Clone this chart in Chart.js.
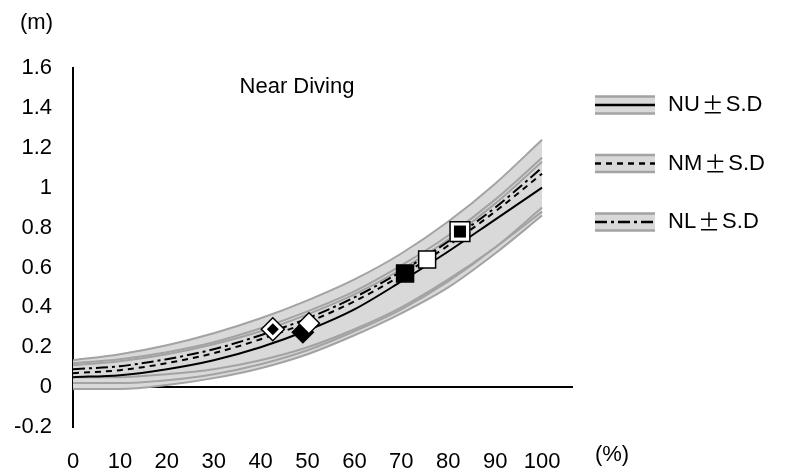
<!DOCTYPE html>
<html>
<head>
<meta charset="utf-8">
<script src="https://cdn.jsdelivr.net/npm/chart.js@4.4.1/dist/chart.umd.min.js"></script>
<style>
  html, body { margin: 0; padding: 0; background: #fff; }
  #wrap { width: 790px; height: 475px; }
</style>
</head>
<body>
<div id="wrap"><canvas id="chart" width="790" height="475"></canvas></div>
<script>
/* ── DATA ── */
var pct = [0, 10, 20, 30, 40, 50, 60, 70, 80, 90, 100];

var nuMean  = [0.05, 0.06, 0.09, 0.135, 0.20, 0.285, 0.39, 0.53, 0.68, 0.84, 1.00];
var nuUpper = [0.11, 0.13, 0.165, 0.215, 0.28, 0.365, 0.465, 0.59, 0.74, 0.92, 1.13];
var nuLower = [-0.01, -0.01, 0.01, 0.045, 0.095, 0.165, 0.26, 0.37, 0.50, 0.67, 0.86];

var nmMean  = [0.07, 0.085, 0.12, 0.17, 0.24, 0.325, 0.43, 0.56, 0.71, 0.88, 1.07];
var nmUpper = [0.12, 0.14, 0.175, 0.225, 0.295, 0.38, 0.48, 0.61, 0.76, 0.94, 1.15];
var nmLower = [0.02, 0.02, 0.035, 0.065, 0.115, 0.185, 0.28, 0.39, 0.53, 0.70, 0.90];

var nlMean  = [0.09, 0.105, 0.14, 0.19, 0.26, 0.345, 0.45, 0.58, 0.73, 0.90, 1.10];
var nlUpper = [0.135, 0.165, 0.21, 0.27, 0.345, 0.435, 0.54, 0.67, 0.83, 1.02, 1.24];
var nlLower = [0.05, 0.05, 0.065, 0.09, 0.135, 0.20, 0.29, 0.40, 0.54, 0.70, 0.88];

// diving points: first = diamond, second = square
var nuMarkX = [49.0, 70.8];
var nuMarkY = [0.275, 0.57];
var nmMarkX = [50.3, 75.5];
var nmMarkY = [0.32, 0.64];
var nlMarkX = [42.6, 82.5];
var nlMarkY = [0.29, 0.78];

var xTicks = [0, 10, 20, 30, 40, 50, 60, 70, 80, 90, 100];
var yTicks = [-0.2, 0, 0.2, 0.4, 0.6, 0.8, 1, 1.2, 1.4, 1.6];

var legendLabels = ['NU', 'NM', 'NL'];
var chartTitle = 'Near Diving';
var yUnit = '(m)';
var xUnit = '(%)';

/* ── HELPERS ── */
var FONT = '22px "Liberation Sans", Arial, sans-serif';
var BAND = '#d9d9d9';
var EDGE = '#a3a3a3';
var DASH_NM = [6, 5];
var DASH_NL = [12, 4, 3, 4];

function pts(xs, ys) {
  var out = [];
  for (var i = 0; i < xs.length; i++) out.push({ x: xs[i], y: ys[i] });
  return out;
}

function meanSet(vals, dash) {
  return {
    data: pts(pct, vals), borderColor: '#000', borderWidth: 2, borderDash: dash,
    pointRadius: 0, fill: false, cubicInterpolationMode: 'monotone'
  };
}

function edgeSet(vals, fillNext) {
  return {
    data: pts(pct, vals), borderColor: EDGE, borderWidth: 2,
    backgroundColor: BAND, pointRadius: 0,
    fill: fillNext ? '+1' : false, cubicInterpolationMode: 'monotone'
  };
}

function markSet(xs, ys, bg, radii, border) {
  return {
    data: pts(xs, ys), showLine: false,
    pointStyle: ['rectRot', 'rect'], pointRadius: radii,
    pointBackgroundColor: bg, pointBorderColor: '#000', pointBorderWidth: border
  };
}

/* ── TEXT + LEGEND ── */
var annotate = {
  id: 'annotate',
  afterDraw: function(chart) {
    var ctx = chart.ctx;
    ctx.save();
    ctx.fillStyle = '#000';
    ctx.font = FONT;
    ctx.textBaseline = 'middle';
    ctx.textAlign = 'left';
    ctx.fillText(yUnit, 20, 23);
    ctx.textAlign = 'center';
    ctx.fillText(chartTitle, 297, 87);
    ctx.fillText(xUnit, 612, 455);

    var dashes = [[], DASH_NM, DASH_NL];
    for (var i = 0; i < legendLabels.length; i++) {
      var y = 105 + i * 58.5;
      var x = 595, w = 60;
      ctx.fillStyle = BAND;
      ctx.fillRect(x, y - 9, w, 18);
      ctx.setLineDash([]);
      ctx.strokeStyle = EDGE;
      ctx.lineWidth = 2.5;
      ctx.beginPath();
      ctx.moveTo(x, y - 8.5); ctx.lineTo(x + w, y - 8.5);
      ctx.moveTo(x, y + 8.5); ctx.lineTo(x + w, y + 8.5);
      ctx.stroke();
      ctx.strokeStyle = '#000';
      ctx.lineWidth = 2.5;
      ctx.setLineDash(dashes[i]);
      ctx.beginPath();
      ctx.moveTo(x, y); ctx.lineTo(x + w, y);
      ctx.stroke();
      ctx.setLineDash([]);

      ctx.fillStyle = '#000';
      ctx.textAlign = 'left';
      ctx.font = FONT;
      var tx = 668;
      ctx.fillText(legendLabels[i], tx, y);
      tx += ctx.measureText(legendLabels[i]).width + 2;
      ctx.font = '22px "Noto Sans CJK JP"';
      ctx.fillText('±', tx, y);
      tx += ctx.measureText('±').width + 2;
      ctx.font = FONT;
      ctx.fillText('S.D', tx, y);
    }
    ctx.restore();
  }
};

/* ── CHART ── */
Chart.defaults.font.family = '"Liberation Sans", Arial, sans-serif';
Chart.defaults.color = '#000';

new Chart(document.getElementById('chart').getContext('2d'), {
  type: 'line',
  data: {
    datasets: [
      markSet(nlMarkX, nlMarkY, '#000', [6, 8.5], 0),
      markSet(nlMarkX, nlMarkY, '#fff', [11.5, 14], 1.5),
      markSet(nmMarkX, nmMarkY, '#fff', [10.5, 12], 1.5),
      markSet(nuMarkX, nuMarkY, '#000', [10.5, 12], 1.5),
      meanSet(nuMean, []),
      meanSet(nmMean, DASH_NM),
      meanSet(nlMean, DASH_NL),
      edgeSet(nuUpper, true),
      edgeSet(nuLower, false),
      edgeSet(nmUpper, true),
      edgeSet(nmLower, false),
      edgeSet(nlUpper, true),
      edgeSet(nlLower, false)
    ]
  },
  options: {
    responsive: false,
    animation: false,
    events: [],
    devicePixelRatio: 1,
    layout: { padding: { left: 14, right: 217, top: 68, bottom: 4 } },
    plugins: {
      legend: { display: false },
      tooltip: { enabled: false },
      filler: { drawTime: 'beforeDatasetsDraw' }
    },
    scales: {
      x: {
        type: 'linear', min: 0, max: 106.6,
        afterBuildTicks: function(s) { s.ticks = xTicks.map(function(v) { return { value: v }; }); },
        afterFit: function(s) { s.height = 44; },
        grid: { display: false },
        border: { display: false },
        ticks: { font: { size: 22 }, padding: 14, color: '#000', maxRotation: 0 }
      },
      y: {
        min: -0.2, max: 1.6,
        afterBuildTicks: function(s) { s.ticks = yTicks.map(function(v) { return { value: v }; }); },
        afterFit: function(s) { s.width = 59; },
        grid: {
          drawTicks: false,
          color: function(c) { return c.tick && c.tick.value === 0 ? '#000' : 'rgba(0,0,0,0)'; },
          lineWidth: 2
        },
        border: { display: true, color: '#000', width: 2 },
        ticks: {
          font: { size: 22 }, padding: 21, color: '#000',
          callback: function(v) { return String(Math.round(v * 10) / 10); }
        }
      }
    }
  },
  plugins: [annotate]
});
</script>
</body>
</html>
